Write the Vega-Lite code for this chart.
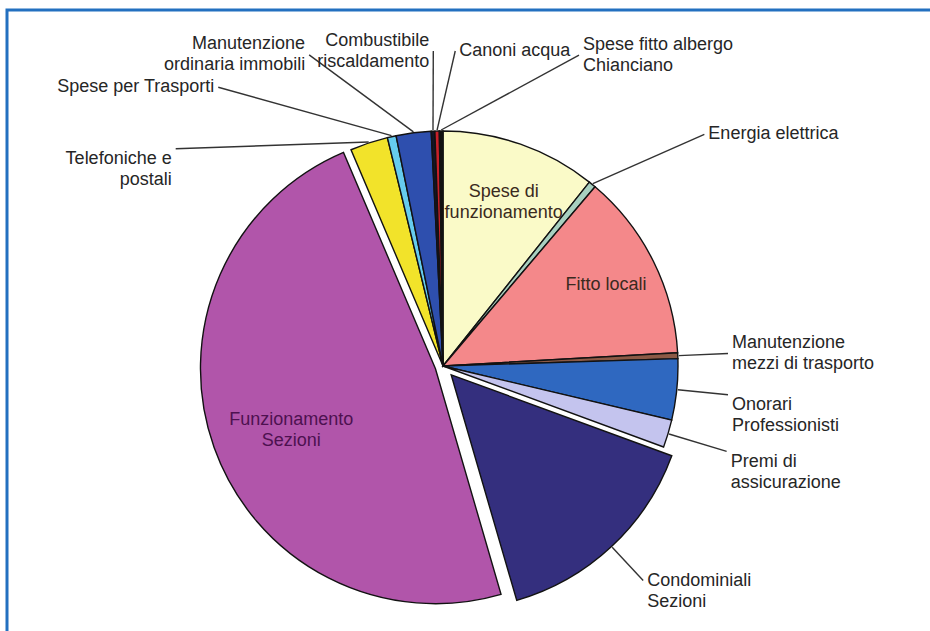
{
  "$schema": "https://vega.github.io/schema/vega-lite/v6.json",
  "width": 927,
  "height": 625,
  "autosize": "none",
  "padding": {"left": 7, "top": 10, "right": -4, "bottom": -4},
  "background": "white",
  "config": {"view": {"stroke": "#2370C0", "strokeWidth": 3}},
  "data": {
    "values": [
      {"ord": 1, "cat": "Spese di funzionamento", "lab": "Spese di\nfunzionamento", "value": 10.7},
      {"ord": 2, "cat": "Energia elettrica", "lab": "Energia elettrica", "value": 0.5},
      {"ord": 3, "cat": "Fitto locali", "lab": "Fitto locali", "value": 12.9},
      {"ord": 4, "cat": "Manutenzione mezzi di trasporto", "lab": "Manutenzione\nmezzi di trasporto", "value": 0.4},
      {"ord": 5, "cat": "Onorari Professionisti", "lab": "Onorari\nProfessionisti", "value": 4.2},
      {"ord": 6, "cat": "Premi di assicurazione", "lab": "Premi di\nassicurazione", "value": 1.9},
      {"ord": 7, "cat": "Condominiali Sezioni", "lab": "Condominiali\nSezioni", "value": 14.9},
      {"ord": 8, "cat": "Funzionamento Sezioni", "lab": "Funzionamento\nSezioni", "value": 48.1},
      {"ord": 9, "cat": "Telefoniche e postali", "lab": "Telefoniche e\npostali", "value": 2.6},
      {"ord": 10, "cat": "Spese per Trasporti", "lab": "Spese per Trasporti", "value": 0.6},
      {"ord": 11, "cat": "Manutenzione ordinaria immobili", "lab": "Manutenzione\nordinaria immobili", "value": 2.4},
      {"ord": 12, "cat": "Combustibile riscaldamento", "lab": "Combustibile\nriscaldamento", "value": 0.25},
      {"ord": 13, "cat": "Canoni acqua", "lab": "Canoni acqua", "value": 0.3},
      {"ord": 14, "cat": "Spese fitto albergo Chianciano", "lab": "Spese fitto albergo\nChianciano", "value": 0.25}
    ]
  },
  "transform": [
    {"joinaggregate": [{"op": "sum", "field": "value", "as": "total"}]},
    {"window": [{"op": "sum", "field": "value", "as": "cum"}], "sort": [{"field": "ord"}], "frame": [null, 0]},
    {"calculate": "(datum.cum - datum.value) / datum.total", "as": "a0"},
    {"calculate": "datum.cum / datum.total", "as": "a1"},
    {"calculate": "(datum.a0 + datum.a1) * PI", "as": "mid"},
    {"calculate": "datum.cat === 'Funzionamento Sezioni' ? 8 : (datum.cat === 'Condominiali Sezioni' ? 12 : 0)", "as": "ex"},
    {"calculate": "sin(datum.mid) * datum.ex", "as": "cx"},
    {"calculate": "cos(datum.mid) * datum.ex", "as": "cy"},
    {"calculate": "sin(datum.mid) * (236 + datum.ex)", "as": "sx"},
    {"calculate": "cos(datum.mid) * (236 + datum.ex)", "as": "sy"},
    {"calculate": "235 * (0.82 - 0.35 * datum.value / datum.total) + datum.ex", "as": "ri"},
    {"calculate": "sin(datum.mid) * datum.ri", "as": "ix"},
    {"calculate": "cos(datum.mid) * datum.ri", "as": "iy"},
    {"calculate": "indexof(['Spese di funzionamento', 'Fitto locali', 'Funzionamento Sezioni'], datum.cat) < 0", "as": "ext"},
    {"calculate": "datum.mid * 180 / PI > 300 ? datum.mid * 180 / PI - 360 : datum.mid * 180 / PI", "as": "md"},
    {"calculate": "datum.md - 14.32 * sin(datum.md * PI / 90)", "as": "tau"},
    {"window": [{"op": "row_number", "as": "rk"}], "sort": [{"field": "md"}], "groupby": ["ext"]},
    {"calculate": "datum.tau - 12 * (datum.rk - 1)", "as": "u"},
    {"window": [{"op": "max", "field": "u", "as": "F"}], "sort": [{"field": "md"}], "groupby": ["ext"], "frame": [null, 0]},
    {"window": [{"op": "min", "field": "u", "as": "B"}], "sort": [{"field": "md"}], "groupby": ["ext"], "frame": [0, null]},
    {"calculate": "12 * (datum.rk - 1) + 0.3 * datum.F + 0.7 * datum.B", "as": "tl"},
    {"calculate": "datum.tl + 14.32 * sin(datum.tl * PI / 90)", "as": "p1"},
    {"calculate": "datum.tl + 14.32 * sin(datum.p1 * PI / 90)", "as": "p2"},
    {"calculate": "datum.tl + 14.32 * sin(datum.p2 * PI / 90)", "as": "p3"},
    {"calculate": "datum.tl + 14.32 * sin(datum.p3 * PI / 90)", "as": "p4"},
    {"calculate": "datum.tl + 14.32 * sin(datum.p4 * PI / 90)", "as": "p5"},
    {"calculate": "datum.tl + 14.32 * sin(datum.p5 * PI / 90)", "as": "p6"},
    {"calculate": "datum.p6 < 0 ? -1 : 1", "as": "sg"},
    {"window": [{"op": "lag", "field": "sg", "as": "psg"}], "sort": [{"field": "md"}], "groupby": ["ext"]},
    {"calculate": "datum.psg == null ? 0 : (datum.psg != datum.sg ? 2 : 12)", "as": "s"},
    {"window": [{"op": "sum", "field": "s", "as": "C"}], "sort": [{"field": "md"}], "groupby": ["ext"], "frame": [null, 0]},
    {"calculate": "datum.tau - datum.C", "as": "u2"},
    {"window": [{"op": "max", "field": "u2", "as": "F2"}], "sort": [{"field": "md"}], "groupby": ["ext"], "frame": [null, 0]},
    {"window": [{"op": "min", "field": "u2", "as": "B2"}], "sort": [{"field": "md"}], "groupby": ["ext"], "frame": [0, null]},
    {"calculate": "datum.C + 0.33 * datum.F2 + 0.67 * datum.B2", "as": "t2"},
    {"calculate": "datum.t2 + 14.32 * sin(datum.t2 * PI / 90)", "as": "q1"},
    {"calculate": "datum.t2 + 14.32 * sin(datum.q1 * PI / 90)", "as": "q2"},
    {"calculate": "datum.t2 + 14.32 * sin(datum.q2 * PI / 90)", "as": "q3"},
    {"calculate": "datum.t2 + 14.32 * sin(datum.q3 * PI / 90)", "as": "q4"},
    {"calculate": "datum.t2 + 14.32 * sin(datum.q4 * PI / 90)", "as": "q5"},
    {"calculate": "datum.t2 + 14.32 * sin(datum.q5 * PI / 90)", "as": "q6"},
    {"calculate": "datum.t2 + 14.32 * sin(datum.q6 * PI / 90)", "as": "q7"},
    {"calculate": "datum.t2 + 14.32 * sin(datum.q7 * PI / 90)", "as": "q8"},
    {"calculate": "datum.q8 * PI / 180", "as": "phi"},
    {"calculate": "pow(pow(abs(sin(datum.phi)) / 285, 4) + pow(abs(cos(datum.phi)) / (cos(datum.phi) > 0 ? 315 : 230), 4), -0.25)", "as": "rho"},
    {"calculate": "sin(datum.phi) * datum.rho", "as": "lx"},
    {"calculate": "cos(datum.phi) * datum.rho", "as": "ly"},
    {"calculate": "sin(datum.phi) < 0 ? 'L' : 'R'", "as": "side"},
    {"calculate": "indexof(datum.lab, '\\n') < 0 ? 'm' : (cos(datum.phi) >= (sin(datum.phi) < 0 ? 0.7 : 0) ? 'b' : (cos(datum.phi) > -0.5 ? 't' : 'm'))", "as": "vb"}
  ],
  "layer": [
    {
      "mark": {"type": "arc", "radius": 235, "stroke": "#121212", "strokeWidth": 1.4},
      "encoding": {
        "x": {"field": "cx", "type": "quantitative", "scale": {"domain": [-436, 491], "nice": false, "zero": false}, "axis": null},
        "y": {"field": "cy", "type": "quantitative", "scale": {"domain": [-269, 356], "nice": false, "zero": false}, "axis": null},
        "theta": {"field": "a0", "type": "quantitative", "stack": null, "scale": {"domain": [0, 1], "range": [0, 6.283185307179586]}},
        "theta2": {"field": "a1"},
        "color": {
          "field": "cat",
          "type": "nominal",
          "legend": null,
          "scale": {
            "domain": ["Spese di funzionamento", "Energia elettrica", "Fitto locali", "Manutenzione mezzi di trasporto", "Onorari Professionisti", "Premi di assicurazione", "Condominiali Sezioni", "Funzionamento Sezioni", "Telefoniche e postali", "Spese per Trasporti", "Manutenzione ordinaria immobili", "Combustibile riscaldamento", "Canoni acqua", "Spese fitto albergo Chianciano"],
            "range": ["#FAFAC8", "#A8D0C0", "#F4888A", "#8C5A46", "#2F68C0", "#C4C4EE", "#342F7E", "#B155AA", "#F2E32A", "#66CCEE", "#2E4FAE", "#141428", "#C8202A", "#111111"]
          }
        }
      }
    },
    {
      "transform": [{"filter": "datum.ext"}],
      "mark": {"type": "rule", "color": "#333333", "strokeWidth": 1.4},
      "encoding": {
        "x": {"field": "sx", "type": "quantitative", "scale": {"domain": [-436, 491], "nice": false, "zero": false}, "axis": null},
        "y": {"field": "sy", "type": "quantitative", "scale": {"domain": [-269, 356], "nice": false, "zero": false}, "axis": null},
        "x2": {"field": "lx"},
        "y2": {"field": "ly"}
      }
    },
    {
      "transform": [{"filter": "datum.ext && datum.side === 'R' && datum.vb === 'b'"}],
      "mark": {"type": "text", "align": "left", "baseline": "middle", "dx": 4, "dy": -10.5, "font": "Liberation Sans", "fontSize": 18, "lineHeight": 21, "lineBreak": "\n", "color": "#262626"},
      "encoding": {
        "x": {"field": "lx", "type": "quantitative", "scale": {"domain": [-436, 491], "nice": false, "zero": false}, "axis": null},
        "y": {"field": "ly", "type": "quantitative", "scale": {"domain": [-269, 356], "nice": false, "zero": false}, "axis": null},
        "text": {"field": "lab"}
      }
    },
    {
      "transform": [{"filter": "datum.ext && datum.side === 'R' && datum.vb === 't'"}],
      "mark": {"type": "text", "align": "left", "baseline": "middle", "dx": 4, "dy": 10.5, "font": "Liberation Sans", "fontSize": 18, "lineHeight": 21, "lineBreak": "\n", "color": "#262626"},
      "encoding": {
        "x": {"field": "lx", "type": "quantitative", "scale": {"domain": [-436, 491], "nice": false, "zero": false}, "axis": null},
        "y": {"field": "ly", "type": "quantitative", "scale": {"domain": [-269, 356], "nice": false, "zero": false}, "axis": null},
        "text": {"field": "lab"}
      }
    },
    {
      "transform": [{"filter": "datum.ext && datum.side === 'R' && datum.vb === 'm'"}],
      "mark": {"type": "text", "align": "left", "baseline": "middle", "dx": 4, "font": "Liberation Sans", "fontSize": 18, "lineHeight": 21, "lineBreak": "\n", "color": "#262626"},
      "encoding": {
        "x": {"field": "lx", "type": "quantitative", "scale": {"domain": [-436, 491], "nice": false, "zero": false}, "axis": null},
        "y": {"field": "ly", "type": "quantitative", "scale": {"domain": [-269, 356], "nice": false, "zero": false}, "axis": null},
        "text": {"field": "lab"}
      }
    },
    {
      "transform": [{"filter": "datum.ext && datum.side === 'L' && datum.vb === 'b'"}],
      "mark": {"type": "text", "align": "right", "baseline": "middle", "dx": -4, "dy": -10.5, "font": "Liberation Sans", "fontSize": 18, "lineHeight": 21, "lineBreak": "\n", "color": "#262626"},
      "encoding": {
        "x": {"field": "lx", "type": "quantitative", "scale": {"domain": [-436, 491], "nice": false, "zero": false}, "axis": null},
        "y": {"field": "ly", "type": "quantitative", "scale": {"domain": [-269, 356], "nice": false, "zero": false}, "axis": null},
        "text": {"field": "lab"}
      }
    },
    {
      "transform": [{"filter": "datum.ext && datum.side === 'L' && datum.vb === 't'"}],
      "mark": {"type": "text", "align": "right", "baseline": "middle", "dx": -4, "dy": 10.5, "font": "Liberation Sans", "fontSize": 18, "lineHeight": 21, "lineBreak": "\n", "color": "#262626"},
      "encoding": {
        "x": {"field": "lx", "type": "quantitative", "scale": {"domain": [-436, 491], "nice": false, "zero": false}, "axis": null},
        "y": {"field": "ly", "type": "quantitative", "scale": {"domain": [-269, 356], "nice": false, "zero": false}, "axis": null},
        "text": {"field": "lab"}
      }
    },
    {
      "transform": [{"filter": "datum.ext && datum.side === 'L' && datum.vb === 'm'"}],
      "mark": {"type": "text", "align": "right", "baseline": "middle", "dx": -4, "font": "Liberation Sans", "fontSize": 18, "lineHeight": 21, "lineBreak": "\n", "color": "#262626"},
      "encoding": {
        "x": {"field": "lx", "type": "quantitative", "scale": {"domain": [-436, 491], "nice": false, "zero": false}, "axis": null},
        "y": {"field": "ly", "type": "quantitative", "scale": {"domain": [-269, 356], "nice": false, "zero": false}, "axis": null},
        "text": {"field": "lab"}
      }
    },
    {
      "transform": [{"filter": "!datum.ext"}],
      "mark": {"type": "text", "align": "center", "baseline": "middle", "font": "Liberation Sans", "fontSize": 18, "lineHeight": 21, "lineBreak": "\n"},
      "encoding": {
        "x": {"field": "ix", "type": "quantitative", "scale": {"domain": [-436, 491], "nice": false, "zero": false}, "axis": null},
        "y": {"field": "iy", "type": "quantitative", "scale": {"domain": [-269, 356], "nice": false, "zero": false}, "axis": null},
        "text": {"field": "lab"},
        "color": {"condition": {"test": "datum.cat === 'Funzionamento Sezioni'", "value": "#4D1150"}, "value": "#3A2A20"}
      }
    }
  ]
}
